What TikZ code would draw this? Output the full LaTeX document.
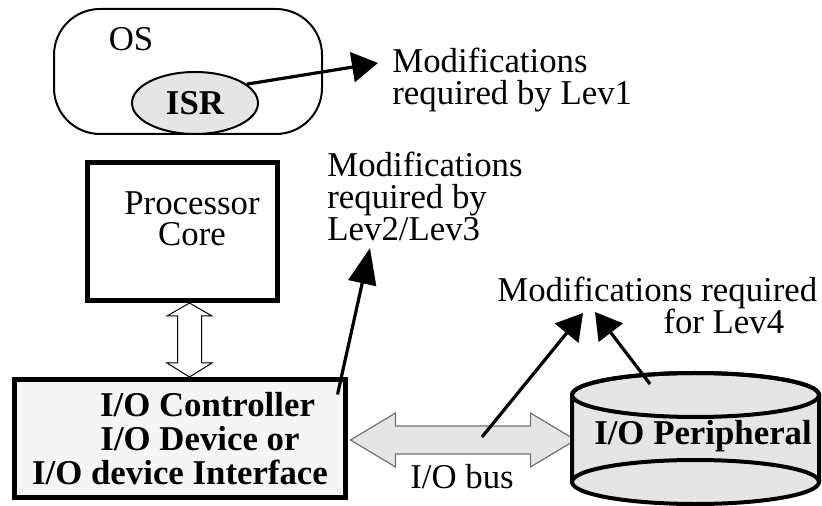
\documentclass[tikz,border=0pt]{standalone}
\usepackage{fontspec}
\setmainfont{Liberation Serif}
\usetikzlibrary{arrows.meta,shapes.geometric}
\definecolor{lightshade}{gray}{0.9}
\definecolor{paleshade}{gray}{0.96}
\lineskiplimit=-20pt

\begin{document}
\begin{tikzpicture}[x=0.5pt,y=-0.5pt,
  every node/.style={font=\fontsize{17.4}{16}\selectfont, inner sep=0pt},
  osbox/.style={draw, line width=1pt, rounded corners=23pt, minimum width=134pt, minimum height=62.5pt},
  isrshape/.style={ellipse, draw, line width=1pt, fill=lightshade, minimum width=63pt, minimum height=31pt, font=\fontsize{17.4}{16}\selectfont\bfseries},
  cpubox/.style={draw, line width=2.5pt, minimum width=95pt, minimum height=69pt},
  iocbox/.style={draw, line width=2.5pt, fill=paleshade, minimum width=165.5pt, minimum height=59pt, align=center, font=\fontsize{17.4}{16.8}\selectfont\bfseries},
  modtext/.style={align=left},
  modarrow/.style={line width=1.6pt, -{Triangle[length=13pt,width=15pt]}},
  linkarrow/.style={draw, line width=0.5pt, fill=white},
  busarrow/.style={draw=black!55, line width=0.6pt, fill=lightshade},
  cylshape/.style={draw, line width=2pt}]
\useasboundingbox (0,0) rectangle (822,506);

% OS with its interrupt service routine
\node[osbox] (os) at (188,71.5) {};
\node (oslabel) at (131,39) {OS};
\node[isrshape] (isr) at (195,103) {ISR};
\node[modtext, anchor=north west] (lev1) at (392,48) {Modifications\\required by Lev1};
\draw[modarrow] (isr.20) -- ([shift={(-14,15)}]lev1.north west);

% processor and I/O controller
\node[cpubox] (cpu) at (182.5,231.5) {};
\node[align=center, font=\fontsize{17.4}{15.5}\selectfont] (cputext) at (192,219) {Processor\\Core};
\node[iocbox] (ioc) at (180,438.5) {\hspace*{27.5pt}I/O Controller\\\hspace*{20pt}I/O Device or\\I/O device Interface};
\draw[linkarrow] ([xshift=3.5pt]cpu.south) -- ++(22.5,13) -- ++(-10.5,0) -- ++(0,47) -- ++(10.5,0)
  -- ++(-22.5,14) -- ++(-22.5,-14) -- ++(10.5,0) -- ++(0,-47) -- ++(-10.5,0) -- cycle;
\node[modtext, anchor=north west] (lev23) at (327,152) {Modifications\\required by\\Lev2/Lev3};
\draw[modarrow, -{Triangle[length=18pt,width=14pt]}] ([shift={(-10.5,17.5)}]ioc.north east) -- ([shift={(43,96)}]lev23.north west);

% I/O bus
\draw[busarrow] ([shift={(2.5,1.5)}]ioc.east) -- ++(45,-27) -- ++(0,13) -- ++(135,0) -- ++(0,-13) -- ++(45,27)
  -- ++(-45,27) -- ++(0,-13) -- ++(-135,0) -- ++(0,13) -- cycle;
\node (buslabel) at (462,477) {I/O bus};

% peripheral drum
\filldraw[cylshape, fill=lightshade] (572,395) -- (572,482) arc[start angle=180, end angle=0, x radius=123.5, y radius=22]
  -- (819,395) arc[start angle=0, end angle=-180, x radius=123.5, y radius=22] -- cycle;
\draw[cylshape] (695.5,395) ellipse[x radius=123.5, y radius=22];
\draw[cylshape] (572,482) arc[start angle=180, end angle=360, x radius=123.5, y radius=22];
\node[font=\fontsize{17.4}{16}\selectfont\bfseries] (periph) at (703,436) {I/O Peripheral};

% level 4
\node[anchor=base west] (lev4a) at (497,302) {Modifications required};
\node[anchor=base west] (lev4b) at (663,334) {for Lev4};
\coordinate (bustap) at (482,437);
\coordinate (cyltop) at (650,384);
\draw[modarrow] (bustap) -- ([shift={(86,11)}]lev4a.base west);
\draw[modarrow] (cyltop) -- ([shift={(98,10)}]lev4a.base west);
\end{tikzpicture}
\end{document}
